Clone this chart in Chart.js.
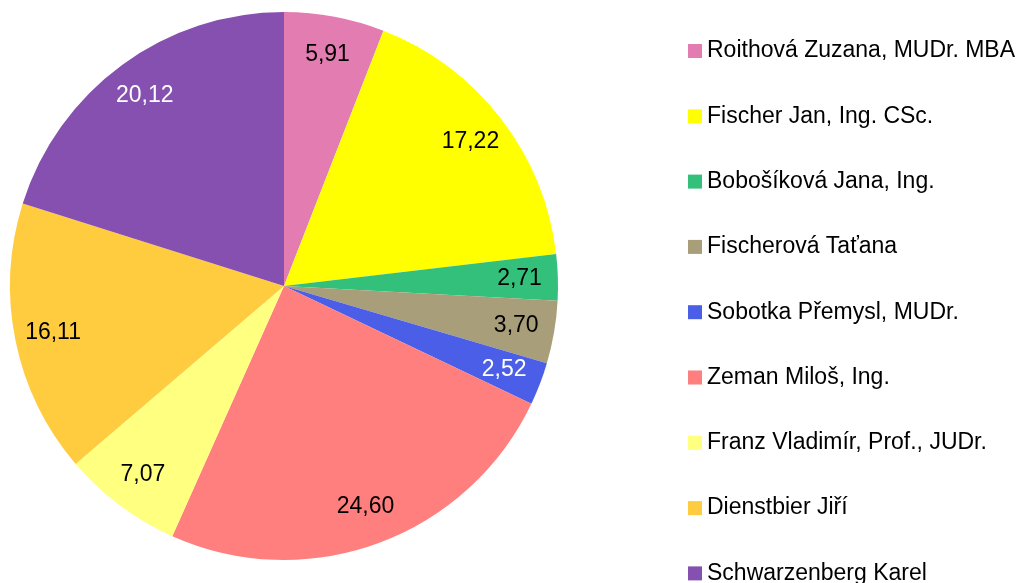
<!DOCTYPE html>
<html>
<head>
<meta charset="utf-8">
<script src="https://cdn.jsdelivr.net/npm/chart.js@4/dist/chart.umd.min.js"></script>
<style>
    html, body { margin: 0; padding: 0; background: #fff; }
    #wrap { width: 1028px; height: 583px; position: relative; }
</style>
</head>
<body>
<div id="wrap"><canvas id="pieChart"></canvas></div>
<script>
// ADATOK
const candidates = [
    'Roithová Zuzana, MUDr. MBA',
    'Fischer Jan, Ing. CSc.',
    'Bobošíková Jana, Ing.',
    'Fischerová Taťana',
    'Sobotka Přemysl, MUDr.',
    'Zeman Miloš, Ing.',
    'Franz Vladimír, Prof., JUDr.',
    'Dienstbier Jiří',
    'Schwarzenberg Karel'
];
const votes = [5.91, 17.22, 2.71, 3.70, 2.52, 24.60, 7.07, 16.11, 20.12];
const sliceColors = ['#E37CB1', '#FFFF00', '#33C07A', '#A89E7A', '#4A5EE8', '#FF7F7F', '#FFFF80', '#FFCC40', '#8650B0'];
const labelColors = ['#000', '#000', '#000', '#000', '#fff', '#000', '#000', '#000', '#fff'];

// Értékcímkék a szeletekre (vesszővel)
const valueLabels = {
    id: 'valueLabels',
    afterDatasetsDraw(chart) {
        const ctx = chart.ctx;
        const meta = chart.getDatasetMeta(0);
        ctx.save();
        ctx.font = '23px "Liberation Sans", Arial, sans-serif';
        ctx.textAlign = 'center';
        ctx.textBaseline = 'middle';
        meta.data.forEach((arc, i) => {
            const mid = (arc.startAngle + arc.endAngle) / 2;
            const r = arc.outerRadius * 0.86;
            const x = arc.x + Math.cos(mid) * r;
            const y = arc.y + Math.sin(mid) * r;
            ctx.fillStyle = labelColors[i];
            ctx.fillText(votes[i].toFixed(2).replace('.', ','), x, y);
        });
        ctx.restore();
    }
};

// Jelmagyarázat jobb oldalon
const sideLegend = {
    id: 'sideLegend',
    afterDraw(chart) {
        const ctx = chart.ctx;
        ctx.save();
        ctx.font = '23px "Liberation Sans", Arial, sans-serif';
        ctx.textBaseline = 'middle';
        candidates.forEach((name, i) => {
            const y = 51 + i * 65.3;
            ctx.fillStyle = sliceColors[i];
            ctx.fillRect(688, y - 7, 14, 14);
            ctx.fillStyle = '#000';
            ctx.fillText(name, 707, y);
        });
        ctx.restore();
    }
};

new Chart(document.getElementById('pieChart'), {
    type: 'pie',
    data: {
        labels: candidates,
        datasets: [{
            data: votes,
            backgroundColor: sliceColors,
            borderWidth: 0
        }]
    },
    options: {
        responsive: true,
        maintainAspectRatio: false,
        animation: false,
        layout: { padding: { left: 10, top: 12, bottom: 23, right: 470 } },
        plugins: {
            legend: { display: false },
            tooltip: { enabled: false }
        }
    },
    plugins: [valueLabels, sideLegend]
});
</script>
</body>
</html>
